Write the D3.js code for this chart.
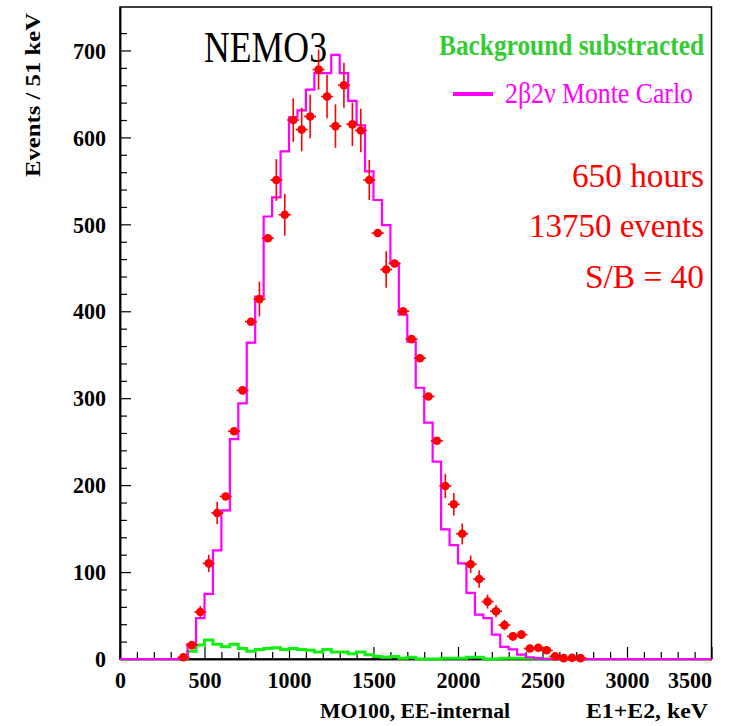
<!DOCTYPE html>
<html>
<head>
<meta charset="utf-8">
<script src="https://cdn.jsdelivr.net/npm/d3@7"></script>
<style>
  body { margin: 0; background: #fff; }
  svg { display: block; }
  text { font-family: "Liberation Serif", "Times New Roman", serif; }
</style>
</head>
<body>
<svg id="chart" width="737" height="726"></svg>
<script>
// Energy sum (E1+E2) of two-electron events, 50 keV bins
const binWidth = 50;

// 2β2ν Monte Carlo histogram, first bin starts at 400 keV
const mcStart = 400;
const mcCounts = [17, 47, 75, 125, 171, 253, 294, 364, 417, 509,
                  531, 584, 623, 631, 655, 674, 674, 695, 674, 642,
                  614, 561, 528, 499, 455, 396, 365, 312, 272, 227,
                  149, 131, 110, 76, 51, 47, 28, 14, 11, 5,
                  2, 1];

// Subtracted background histogram, first bin starts at 400 keV
const bgStart = 400;
const bgCounts = [9, 16, 22, 17, 14, 17, 12, 9, 11, 12,
                  13, 11, 12, 11, 10, 8, 11, 8, 8, 6,
                  8, 5, 3, 2, 3, 1, 2, 0, 0, 0,
                  1, 1, 1, 2, 2, 0, 0, 1, 1, 1,
                  1, 1, 0];

// Measured points (bin centre, counts, error half-length)
const dataEnergy = [375, 425, 475, 525, 575, 625, 675, 725, 775, 825,
                    875, 925, 975, 1025, 1075, 1125, 1175, 1225, 1275, 1325,
                    1375, 1425, 1475, 1525, 1575, 1625, 1675, 1725, 1775, 1825,
                    1875, 1925, 1975, 2025, 2075, 2125, 2175, 2225, 2275, 2325,
                    2375, 2425, 2475, 2525, 2575, 2625, 2675, 2725];
const dataCounts = [2, 16, 54, 110, 168, 187, 262, 309, 388, 414,
                    484, 551, 511, 620, 609, 624, 678, 647, 613, 660,
                    615, 608, 551, 490, 448, 455, 400, 368, 346, 302,
                    251, 199, 178, 144, 109, 92, 66, 55, 39, 26,
                    28, 12, 13, 10, 3, 1, 1.5, 1];
const dataErrors = [0, 0, 7, 10, 13, 0, 0, 0, 0, 20,
                    0, 24, 24, 25, 25, 25, 23, 25, 25, 26,
                    25, 25, 23, 0, 21, 0, 0, 0, 0, 0,
                    0, 14, 13, 12, 10, 10, 8, 7, 6, 5,
                    5, 0, 0, 0, 0, 0, 0, 0];

const xMajorTicks = [0, 500, 1000, 1500, 2000, 2500, 3000, 3500];
const yMajorTicks = [0, 100, 200, 300, 400, 500, 600, 700];
const xMinorStep = 100;
const yMinorStep = 20;

const svg = d3.select("#chart");
const x = d3.scaleLinear().domain([0, 3500]).range([120, 711.5]);
const y = d3.scaleLinear().domain([0, 750]).range([659, 7]);
const fmt = d3.format("d");

// frame
svg.append("rect")
  .attr("x", x(0)).attr("y", y(750))
  .attr("width", x(3500) - x(0)).attr("height", y(0) - y(750))
  .attr("fill", "none").attr("stroke", "#000").attr("stroke-width", 1.5);

// axes with inward ticks
const xMinor = d3.range(0, 3501, xMinorStep).filter(v => v % 500 !== 0);
const yMinor = d3.range(0, 721, yMinorStep).filter(v => v % 100 !== 0);

function styleLabels(sel) {
  sel.attr("fill", "#000")
    .style("font-family", '"Liberation Serif", "Times New Roman", serif')
    .style("font-weight", "bold").style("font-size", "24px")
    .attr("textLength", d => fmt(d).length * 11)
    .attr("lengthAdjust", "spacingAndGlyphs");
}

const gx = svg.append("g").attr("transform", `translate(0,${y(0)})`);
gx.call(d3.axisBottom(x).tickValues(xMinor).tickFormat("").tickSizeInner(-7).tickSizeOuter(0));
gx.append("g").call(d3.axisBottom(x).tickValues(xMajorTicks).tickFormat(fmt)
  .tickSizeInner(-12).tickSizeOuter(0).tickPadding(12));
gx.selectAll(".domain").attr("stroke", "#000").attr("stroke-width", 1.5);
gx.selectAll(".tick line").attr("stroke", "#000").attr("stroke-width", 1.2);
styleLabels(gx.selectAll(".tick text"));
gx.selectAll(".tick text").filter(d => d === 3500).attr("text-anchor", "end").attr("x", 0);

const gy = svg.append("g").attr("transform", `translate(${x(0)},0)`);
gy.call(d3.axisLeft(y).tickValues(yMinor).tickFormat("").tickSizeInner(-7).tickSizeOuter(0));
gy.append("g").call(d3.axisLeft(y).tickValues(yMajorTicks).tickFormat(fmt)
  .tickSizeInner(-11).tickSizeOuter(0).tickPadding(14));
gy.selectAll(".domain").attr("stroke", "#000").attr("stroke-width", 1.5);
gy.selectAll(".tick line").attr("stroke", "#000").attr("stroke-width", 1.2);
styleLabels(gy.selectAll(".tick text"));

// axis titles
svg.append("text")
  .attr("transform", "translate(39.5,95) rotate(-90)")
  .attr("text-anchor", "middle")
  .attr("font-weight", "bold").attr("font-size", 20)
  .attr("textLength", 164).attr("lengthAdjust", "spacingAndGlyphs")
  .text("Events / 51 keV");

svg.append("text")
  .attr("x", 320).attr("y", 718)
  .attr("font-weight", "bold").attr("font-size", 20)
  .attr("textLength", 190).attr("lengthAdjust", "spacingAndGlyphs")
  .text("MO100, EE-internal");

svg.append("text")
  .attr("x", 586).attr("y", 718)
  .attr("font-weight", "bold").attr("font-size", 20)
  .attr("textLength", 122).attr("lengthAdjust", "spacingAndGlyphs")
  .text("E1+E2, keV");

// labels inside the frame
svg.append("text")
  .attr("x", 204).attr("y", 62)
  .attr("font-size", 44).attr("fill", "#000")
  .attr("textLength", 123).attr("lengthAdjust", "spacingAndGlyphs")
  .text("NEMO3");

// narrow, tall lettering: smaller font stretched vertically
svg.append("text")
  .attr("transform", "translate(439,55) scale(1,1.2)")
  .attr("font-size", 25).attr("font-weight", "bold").attr("fill", "#33cc33")
  .attr("textLength", 265).attr("lengthAdjust", "spacingAndGlyphs")
  .text("Background substracted");

svg.append("line")
  .attr("x1", 453).attr("x2", 493).attr("y1", 94).attr("y2", 94)
  .attr("stroke", "#ff00ff").attr("stroke-width", 4);
svg.append("text")
  .attr("x", 505).attr("y", 103)
  .attr("font-size", 30).attr("fill", "#ff00ff")
  .attr("textLength", 188).attr("lengthAdjust", "spacingAndGlyphs")
  .text("2β2ν Monte Carlo");

const infoLines = [
  { t: "650 hours", x0: 572, y0: 187, w: 132 },
  { t: "13750 events", x0: 529, y0: 237, w: 175 },
  { t: "S/B = 40", x0: 585, y0: 288, w: 119 }
];
svg.selectAll("text.info").data(infoLines).join("text")
  .attr("class", "info")
  .attr("x", d => d.x0).attr("y", d => d.y0)
  .attr("font-size", 33).attr("fill", "#ff0000")
  .attr("textLength", d => d.w).attr("lengthAdjust", "spacingAndGlyphs")
  .text(d => d.t);

// histograms
const stepLine = d3.line().x(d => x(d[0])).y(d => y(d[1])).curve(d3.curveStepAfter);

const bgPts = [[bgStart, 0]].concat(bgCounts.map((v, i) => [bgStart + i * binWidth, v]));
bgPts.push([bgStart + bgCounts.length * binWidth, 0]);
svg.append("path")
  .attr("d", stepLine(bgPts))
  .attr("fill", "none").attr("stroke", "#11ee11").attr("stroke-width", 3);

const mcPts = [[0, 0]].concat(mcCounts.map((v, i) => [mcStart + i * binWidth, v]));
mcPts.push([mcStart + mcCounts.length * binWidth, 0]);
mcPts.push([3500, 0]);
svg.append("path")
  .attr("d", stepLine(mcPts))
  .attr("fill", "none").attr("stroke", "#ff00ff").attr("stroke-width", 2.2);

// measured points with error bars
const pts = dataEnergy.map((e, i) => ({ e, v: dataCounts[i], err: dataErrors[i] }));
const gp = svg.append("g");
gp.selectAll("line.ev").data(pts.filter(d => d.err > 0)).join("line")
  .attr("class", "ev")
  .attr("x1", d => x(d.e)).attr("x2", d => x(d.e))
  .attr("y1", d => y(d.v - d.err)).attr("y2", d => y(d.v + d.err))
  .attr("stroke", "#ff0000").attr("stroke-width", 1.6);
gp.selectAll("line.eh").data(pts).join("line")
  .attr("class", "eh")
  .attr("x1", d => x(d.e) - 6).attr("x2", d => x(d.e) + 6)
  .attr("y1", d => y(d.v)).attr("y2", d => y(d.v))
  .attr("stroke", "#ff0000").attr("stroke-width", 1.6);
gp.selectAll("circle").data(pts).join("circle")
  .attr("cx", d => x(d.e)).attr("cy", d => y(d.v))
  .attr("r", 4.3).attr("fill", "#ff0000");
</script>
</body>
</html>
